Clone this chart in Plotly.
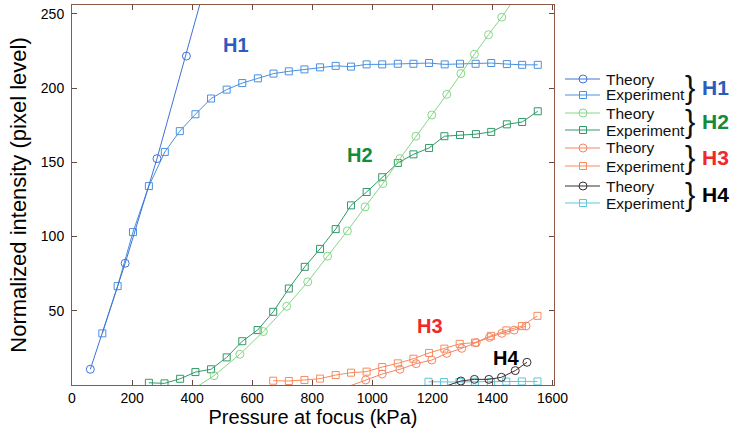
import plotly.graph_objects as go

# ---------------- data (kPa, pixel level) ----------------
h1_theory_x = [61, 177, 283, 381, 480]
h1_theory_y = [10.6, 82, 152.5, 221.6, 296]
h1_exp_x = [101, 152, 203, 256, 309, 359, 411, 463, 515, 567, 619, 671, 722, 774, 826,
            878, 929, 981, 1033, 1085, 1137, 1189, 1241, 1292, 1344, 1396, 1448, 1499, 1551]
h1_exp_y = [34.8, 66.6, 103, 134, 157, 171, 182.4, 193, 199, 203.4, 206.6, 209.8, 211.3, 212.6, 214,
            215, 214.5, 216, 216, 216.4, 216.4, 216.9, 216, 216.4, 216.4, 216.9, 216.2, 215.7, 215.7]

h2_theory_x = [387, 473, 559, 637, 715, 785, 851, 917, 976, 1035, 1092, 1145, 1198, 1248, 1295, 1340, 1387, 1431, 1476]
h2_theory_y = [-5, 6.3, 20.7, 36, 53, 69.5, 86.8, 103.8, 120, 135.7, 152.5, 167.6, 181.9, 195.8, 209.8, 222.8, 236, 247.8, 261]
h2_exp_x = [256, 308, 360, 411, 463, 515, 567, 618, 670, 722, 775, 826, 878, 929, 981, 1033, 1085,
            1137, 1189, 1240, 1292, 1345, 1396, 1448, 1499, 1551]
h2_exp_y = [1.5, 1.1, 4.2, 8.7, 10.6, 18.6, 29.5, 37, 49.3, 65, 79.6, 91.7, 105, 121, 130, 140, 149.6,
            155.4, 159.7, 167.6, 168.4, 169, 170.5, 175.6, 177.2, 184.4]

h3_theory_x = [920, 978, 1033, 1092, 1146, 1198, 1248, 1298, 1346, 1390, 1431, 1472, 1512]
h3_theory_y = [-1, 3.4, 7.4, 10.6, 14.4, 16.8, 21.3, 24.7, 28.5, 32.1, 34.8, 37, 39.7]
h3_exp_x = [670, 722, 774, 826, 878, 929, 981, 1033, 1085, 1137, 1189, 1240, 1291, 1342, 1395, 1446, 1498, 1550]
h3_exp_y = [2.9, 2.7, 3.4, 4.3, 6.7, 8.3, 9.0, 12.1, 14.6, 17.7, 21.6, 24.5, 27.7, 28.6, 33.1, 36.8, 39.7, 46.6]

h4_theory_x = [1248, 1295, 1340, 1388, 1430, 1476, 1515]
h4_theory_y = [-0.5, 2.7, 3.8, 3.8, 5.2, 9.7, 15.3]
h4_exp_x = [1187, 1239, 1290, 1342, 1395, 1446, 1498, 1550]
h4_exp_y = [2.2, 2.0, 2.0, 2.2, 2.0, 2.3, 2.4, 2.4]

x_ticks = [0, 200, 400, 600, 800, 1000, 1200, 1400, 1600]
y_ticks = [50, 100, 150, 200, 250]

groups = ["H1", "H2", "H3", "H4"]
label_colors = ["#2b5cc0", "#138a3c", "#f0282a", "#000000"]
theory_colors = ["#3f72d8", "#86d886", "#f58465", "#3a3030"]
exp_colors = ["#4a90e0", "#2f9a68", "#f88a5c", "#5cc8dc"]
series = [
    (h1_theory_x, h1_theory_y, h1_exp_x, h1_exp_y),
    (h2_theory_x, h2_theory_y, h2_exp_x, h2_exp_y),
    (h3_theory_x, h3_theory_y, h3_exp_x, h3_exp_y),
    (h4_theory_x, h4_theory_y, h4_exp_x, h4_exp_y),
]
label_pos = [(546, 229), (959, 155), (1193, 40), (1444, 18)]

FONT = "Liberation Sans, Arial, sans-serif"

fig = go.Figure()
for i, (tx, ty, ex, ey) in enumerate(series):
    fig.add_trace(go.Scatter(
        x=ex, y=ey, mode="lines+markers", name=groups[i] + " Experiment",
        line=dict(color=exp_colors[i], width=1),
        marker=dict(symbol="square-open", size=7, color=exp_colors[i], line=dict(width=1)),
        showlegend=False))
    fig.add_trace(go.Scatter(
        x=tx, y=ty, mode="lines+markers", name=groups[i] + " Theory",
        line=dict(color=theory_colors[i], width=1),
        marker=dict(symbol="circle-open", size=8, color=theory_colors[i], line=dict(width=1)),
        cliponaxis=(i != 3),
        showlegend=False))

# in-plot labels
for i, (lx, ly) in enumerate(label_pos):
    fig.add_annotation(x=lx, y=ly, text="<b>%s</b>" % groups[i], showarrow=False,
                       font=dict(family=FONT, size=20, color=label_colors[i]))

# ---------------- custom legend (outside plot, paper coords) ----------------
L, R, T, B = 72, 181, 5, 58
W, H = 735, 443
pw, ph = W - L - R, H - T - B


def px2paper(px, py):
    return (px - L) / pw, (H - B - py) / ph


leg_rows = [79, 95, 113, 130, 148, 166, 186, 203]
for i in range(4):
    for j, (kind, col, sym) in enumerate([("Theory", theory_colors[i], "circle"),
                                           ("Experiment", exp_colors[i], "rect")]):
        py = leg_rows[2 * i + j]
        x0, y0 = px2paper(565, py)
        x1, _ = px2paper(600, py)
        xm, _ = px2paper(583, py)
        fig.add_shape(type="line", xref="paper", yref="paper", x0=x0, x1=x1, y0=y0, y1=y0,
                      line=dict(color=col, width=1))
        s = 4 if sym == "circle" else 3.5
        fig.add_shape(type=sym, xref="paper", yref="paper", xsizemode="pixel", ysizemode="pixel",
                      xanchor=xm, yanchor=y0, x0=-s, x1=s, y0=-s, y1=s,
                      line=dict(color=col, width=1), fillcolor="rgba(0,0,0,0)")
        tx, _ = px2paper(604, py)
        fig.add_annotation(xref="paper", yref="paper", x=tx, y=y0, text=kind, showarrow=False,
                           xanchor="left", yanchor="middle",
                           font=dict(family=FONT, size=15.5, color="#111111"))
    cy = (leg_rows[2 * i] + leg_rows[2 * i + 1]) / 2
    bx, by = px2paper(690, cy)
    fig.add_annotation(xref="paper", yref="paper", x=bx, y=by, text="}", showarrow=False,
                       xanchor="center", yanchor="middle",
                       font=dict(family=FONT, size=31, color="#111111"))
    hx, hy = px2paper(700, cy)
    fig.add_annotation(xref="paper", yref="paper", x=hx, y=hy, text="<b>%s</b>" % groups[i],
                       showarrow=False, xanchor="left", yanchor="middle",
                       font=dict(family=FONT, size=21, color=label_colors[i]))

axis_common = dict(showline=True, linecolor="#8c5a46", linewidth=1, mirror="ticks",
                   ticks="inside", ticklen=5, tickcolor="#6a4a3e", tickwidth=1,
                   showgrid=False, zeroline=False, automargin=False,
                   tickfont=dict(family=FONT, size=14, color="#000000"))

fig.update_layout(
    width=W, height=H,
    margin=dict(l=L, r=R, t=T, b=B),
    paper_bgcolor="white", plot_bgcolor="white",
    showlegend=False,
    xaxis=dict(range=[0, 1605], tickvals=x_ticks, ticktext=[str(v) for v in x_ticks],
               title=dict(text="Pressure at focus (kPa)", standoff=3,
                          font=dict(family=FONT, size=20, color="#000000")),
               **axis_common),
    yaxis=dict(range=[0, 256], tickvals=y_ticks, ticktext=[str(v) for v in y_ticks],
               ticklabelstandoff=4,
               title=dict(text="Normalized intensity (pixel level)", standoff=8,
                          font=dict(family=FONT, size=22, color="#000000")),
               **axis_common),
)

fig.write_html("out.html", config={"displayModeBar": False},
               post_script="document.body.style.margin='0';")
